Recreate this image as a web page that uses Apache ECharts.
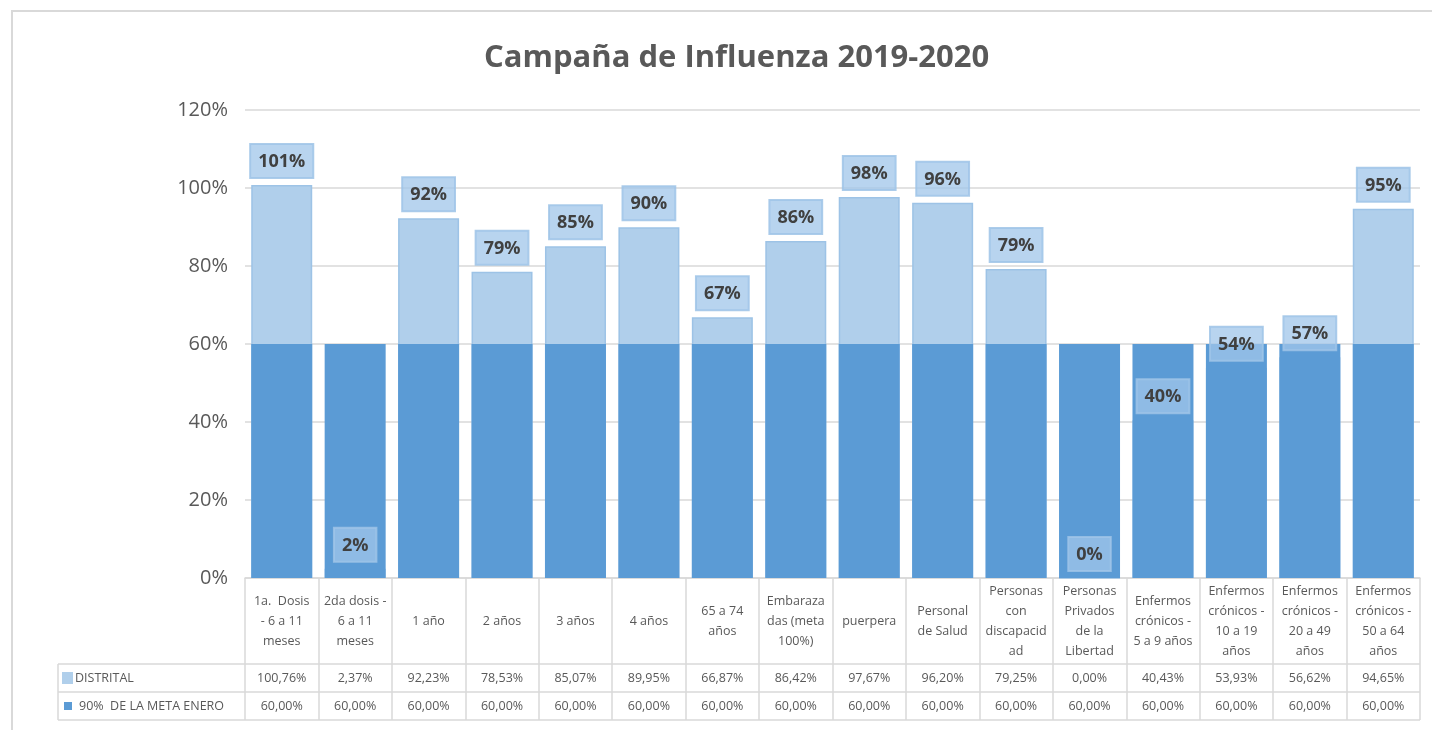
<!DOCTYPE html>
<html>
<head>
<meta charset="utf-8">
<title>Campaña de Influenza 2019-2020</title>
<script src="https://cdn.jsdelivr.net/npm/echarts@6/dist/echarts.min.js"></script>
<style>
  html, body { margin: 0; padding: 0; background: #fff; }
  #chart { width: 1432px; height: 730px; }
</style>
</head>
<body>
<div id="chart"></div>
<script>
// Categories (line breaks as shown in the table header)
var categories = [
    '1a.  Dosis\n- 6 a 11\nmeses',
    '2da dosis -\n6 a 11\nmeses',
    '1 año',
    '2 años',
    '3 años',
    '4 años',
    '65 a 74\naños',
    'Embaraza\ndas (meta\n100%)',
    'puerpera',
    'Personal\nde Salud',
    'Personas\ncon\ndiscapacid\nad',
    'Personas\nPrivados\nde la\nLibertad',
    'Enfermos\ncrónicos -\n5 a 9 años',
    'Enfermos\ncrónicos -\n10 a 19\naños',
    'Enfermos\ncrónicos -\n20 a 49\naños',
    'Enfermos\ncrónicos -\n50 a 64\naños'
];

// Series values (percent)
var distrital = [100.76, 2.37, 92.23, 78.53, 85.07, 89.95, 66.87, 86.42, 97.67, 96.20, 79.25, 0.00, 40.43, 53.93, 56.62, 94.65];
var metaEnero = [60, 60, 60, 60, 60, 60, 60, 60, 60, 60, 60, 60, 60, 60, 60, 60];

var seriesNames = ['DISTRITAL', '90%  DE LA META ENERO'];
var yTicks = [0, 20, 40, 60, 80, 100, 120];

var fontFamily = '"Open Sans", Lato, sans-serif';
var textGrey = '#595959';
var lineGrey = '#d9d9d9';
var lightBlue = '#b0cfeb';
var darkBlue = '#5b9bd5';

function fmtTable(v) {
    return v.toFixed(2).replace('.', ',') + '%';
}

var chart = echarts.init(document.getElementById('chart'));

// Table layout (rows below the plot area)
var gridLeft = 245, gridRight = 12, gridTop = 110, gridBottom = 152;
var axisY = 730 - gridBottom;
var headRow = 86, valRow = 28;
var row1 = axisY + headRow, row2 = row1 + valRow, row3 = row2 + valRow;
var tableLeft = 58, tableRight = 1432 - gridRight;

var tableLabel = {
    interval: 0,
    margin: valRow / 2,
    verticalAlign: 'middle',
    color: textGrey,
    fontSize: 12.5,
    fontFamily: fontFamily
};

chart.setOption({
    animation: false,
    textStyle: { fontFamily: fontFamily },

    title: {
        text: 'Campaña de Influenza 2019-2020',
        left: 479,
        top: 38,
        textStyle: {
            color: textGrey,
            fontSize: 31,
            fontWeight: 'bold',
            fontFamily: fontFamily
        }
    },

    grid: {
        left: gridLeft,
        right: gridRight,
        top: gridTop,
        bottom: gridBottom,
        containLabel: false
    },

    // Horizontal axes: category header + two value rows of the data table
    xAxis: [{
        type: 'category',
        data: categories,
        axisLine: { lineStyle: { color: lineGrey, width: 1.5 } },
        axisTick: {
            show: true,
            interval: 0,
            length: headRow + valRow * 2,
            lineStyle: { color: lineGrey, width: 1.5 }
        },
        axisLabel: {
            interval: 0,
            margin: headRow / 2,
            verticalAlign: 'middle',
            color: textGrey,
            fontSize: 12.5,
            lineHeight: 20,
            fontFamily: fontFamily
        }
    }, {
        type: 'category',
        position: 'bottom',
        offset: headRow,
        data: distrital.map(fmtTable),
        axisLine: { show: false },
        axisTick: { show: false },
        axisLabel: tableLabel
    }, {
        type: 'category',
        position: 'bottom',
        offset: headRow + valRow,
        data: metaEnero.map(fmtTable),
        axisLine: { show: false },
        axisTick: { show: false },
        axisLabel: tableLabel
    }],

    yAxis: {
        type: 'value',
        min: yTicks[0],
        max: yTicks[yTicks.length - 1],
        interval: yTicks[1] - yTicks[0],
        axisLine: { show: false },
        axisTick: { show: false },
        axisLabel: {
            formatter: '{value}%',
            color: textGrey,
            fontSize: 20,
            margin: 17,
            fontFamily: fontFamily
        },
        splitLine: { lineStyle: { color: lineGrey, width: 1.5 } }
    },

    series: [{
        name: seriesNames[0],
        type: 'bar',
        barWidth: 61,
        barGap: '-100%',
        z: 2,
        itemStyle: {
            color: lightBlue,
            borderColor: '#9dc3e6',
            borderWidth: 1.5
        },
        data: distrital
    }, {
        name: seriesNames[1],
        type: 'bar',
        barWidth: 61,
        barGap: '-100%',
        z: 3,
        itemStyle: { color: darkBlue },
        data: metaEnero
    }, {
        // data labels of DISTRITAL, drawn on top of both bars
        name: seriesNames[0] + ' labels',
        type: 'bar',
        barWidth: 61,
        barGap: '-100%',
        z: 4,
        silent: true,
        itemStyle: { color: 'rgba(0,0,0,0)' },
        label: {
            show: true,
            position: 'top',
            distance: 7,
            formatter: function (p) { return Math.round(p.value) + '%'; },
            color: '#404040',
            fontSize: 18,
            fontWeight: 'bold',
            fontFamily: fontFamily,
            backgroundColor: 'rgba(160,197,233,0.75)',
            borderColor: 'rgba(157,195,230,0.85)',
            borderWidth: 1,
            padding: [9, 8, 7, 8]
        },
        data: distrital
    }],

    // Chart frame, table rules and row headers
    graphic: [{
        type: 'rect',
        shape: { x: 12, y: 11, width: 1440, height: 760 },
        style: { fill: 'none', stroke: lineGrey, lineWidth: 2 },
        silent: true
    }, {
        type: 'line',
        shape: { x1: tableLeft, y1: row1, x2: tableRight, y2: row1 },
        style: { stroke: lineGrey, lineWidth: 1.5 }
    }, {
        type: 'line',
        shape: { x1: tableLeft, y1: row2, x2: tableRight, y2: row2 },
        style: { stroke: lineGrey, lineWidth: 1.5 }
    }, {
        type: 'line',
        shape: { x1: tableLeft, y1: row3, x2: tableRight, y2: row3 },
        style: { stroke: lineGrey, lineWidth: 1.5 }
    }, {
        type: 'line',
        shape: { x1: tableLeft, y1: row1, x2: tableLeft, y2: row3 },
        style: { stroke: lineGrey, lineWidth: 1.5 }
    }, {
        type: 'rect',
        shape: { x: 62, y: row1 + 8, width: 11, height: 12 },
        style: { fill: lightBlue }
    }, {
        type: 'text',
        style: {
            x: 75, y: row1 + valRow / 2,
            text: seriesNames[0],
            fill: textGrey,
            font: '12.5px ' + fontFamily,
            verticalAlign: 'middle'
        }
    }, {
        type: 'rect',
        shape: { x: 64, y: row2 + 10, width: 8, height: 8 },
        style: { fill: darkBlue }
    }, {
        type: 'text',
        style: {
            x: 79, y: row2 + valRow / 2,
            text: seriesNames[1],
            fill: textGrey,
            font: '12.5px ' + fontFamily,
            verticalAlign: 'middle'
        }
    }]
});

window.addEventListener('resize', function () {
    chart.resize();
});
</script>
</body>
</html>
